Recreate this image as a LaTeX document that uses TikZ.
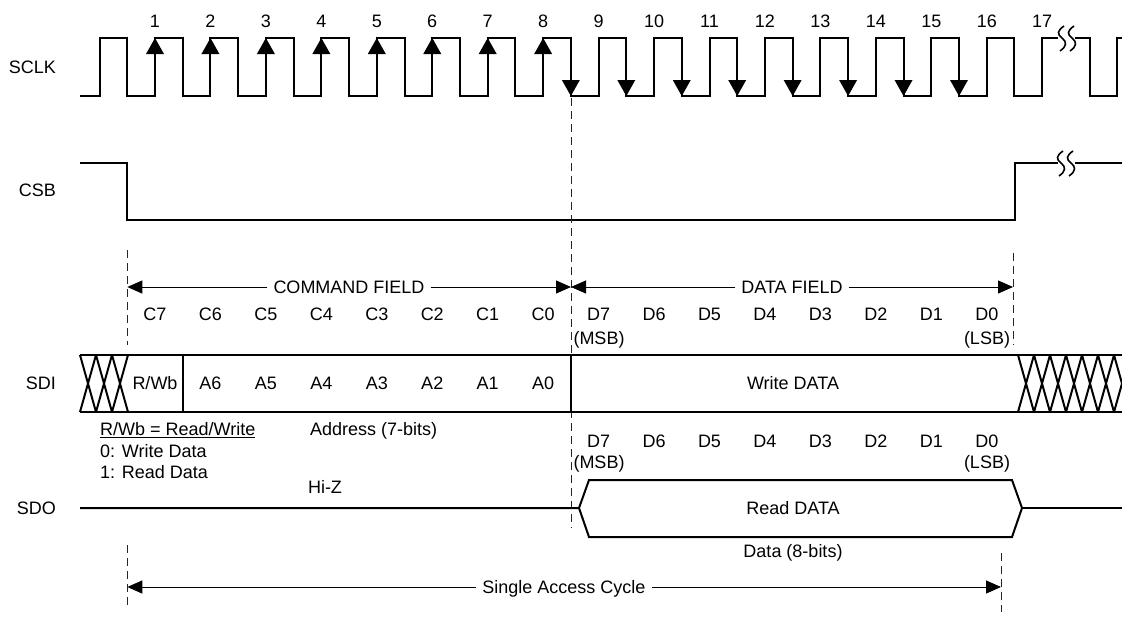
\documentclass[tikz,border=0pt]{standalone}
\usepackage{fontspec}
\setmainfont{Liberation Sans}
\usetikzlibrary{arrows.meta}
\begin{document}
\begin{tikzpicture}[x=1pt,y=-1pt,
  sig/.style={line width=2pt, line join=miter},
  dsh/.style={line width=0.9pt, dash pattern=on 8pt off 5pt, black!85},
  dimline/.style={line width=1pt, -{Triangle[length=15pt,width=13pt]}},
  lbl/.style={font=\fontsize{18}{21}\selectfont, inner sep=0pt, text height=12.9pt, text depth=0pt},
  sq/.style={line width=1.6pt}
]
\useasboundingbox (0,0) rectangle (1122,616);

% ---------- signal names ----------
\node[lbl, anchor=east] (nSCLK) at (56,67) {SCLK};
\node[lbl, anchor=east] (nCSB)  at (56,190) {CSB};
\node[lbl, anchor=east] (nSDI)  at (56,383) {SDI};
\node[lbl, anchor=east] (nSDO)  at (56,508) {SDO};

% ---------- SCLK ----------
\draw[sig] (80,96) -- (99.6,96) -- (99.6,38) -- (127.3,38) -- (127.3,96)
  foreach \k in {0,...,15} { -- ({155+\k*55.45},96) -- ({155+\k*55.45},38) -- ({182.7+\k*55.45},38) -- ({182.7+\k*55.45},96) }
  -- (1042.2,96) -- (1042.2,38) -- (1058,38);
\draw[sig] (1075,38) -- (1090,38) -- (1090,96) -- (1117,96) -- (1117,38) -- (1122,38);
\foreach \x in {1062,1072}{
  \draw[sq] (\x+2,26) .. controls (\x-5,31) and (\x-5,34) .. (\x,38) .. controls (\x+5,42) and (\x+5,46) .. (\x-2,51);
}
\foreach \k in {0,...,7}{
  \fill ({155+\k*55.45},38) -- ++(-9,16) -- ++(18,0) -- cycle;
}
\foreach \k in {7,...,14}{
  \fill ({182.7+\k*55.45},96) -- ++(-9,-16) -- ++(18,0) -- cycle;
}
\foreach \k in {1,...,17}{
  \node[lbl] (num\k) at ({155+(\k-1)*55.45},21) {\k};
}

% ---------- CSB ----------
\draw[sig] (80,163) -- (127.3,163) -- (127.3,220) -- (1014.5,220) -- (1014.5,163) -- (1058,163);
\draw[sig] (1075,163) -- (1122,163);
\foreach \x in {1061,1071}{
  \draw[sq] (\x+2,151) .. controls (\x-5,156) and (\x-5,159) .. (\x,163) .. controls (\x+5,167) and (\x+5,171) .. (\x-2,176);
}

% ---------- dashed markers ----------
\draw[dsh] (127.3,250) -- (127.3,345);
\draw[dsh] (127.3,545) -- (127.3,608);
\draw[dsh] (571,98) -- (571,528);
\draw[dsh] (1013,253) -- (1013,345);
\draw[dsh] (1001,553) -- (1001,612);

% ---------- field arrows ----------
\coordinate (cL) at (127.3,287);
\coordinate (cM) at (571,287);
\coordinate (cR) at (1013,287);
\node[lbl] (cmd) at (349,287) {COMMAND FIELD};
\node[lbl] (dat) at (792,287) {DATA FIELD};
\draw[dimline] ([xshift=-6pt]cmd.west) -- (cL);
\draw[dimline] ([xshift=6pt]cmd.east) -- (cM);
\draw[dimline] ([xshift=-6pt]dat.west) -- (cM);
\draw[dimline] ([xshift=6pt]dat.east) -- (cR);

\foreach \c [count=\i from 0] in {C7,C6,C5,C4,C3,C2,C1,C0}{
  \node[lbl] (c\i) at ({155+\i*55.45},314) {\c};
}
\foreach \d [count=\i from 0] in {D7,D6,D5,D4,D3,D2,D1,D0}{
  \node[lbl] (d\i) at ({598.6+\i*55.45},314) {\d};
  \node[lbl] (e\i) at ({598.6+\i*55.45},441) {\d};
}
\node[lbl] (msb1) at (599,338) {(MSB)};
\node[lbl] (lsb1) at (987,338) {(LSB)};
\node[lbl] (msb2) at (599,462) {(MSB)};
\node[lbl] (lsb2) at (987,462) {(LSB)};

% ---------- SDI ----------
\draw[sig] (80,355) -- (1122,355);
\draw[sig] (80,412) -- (1122,412);
\foreach \i in {0,1,2}{
  \draw[sig] ({80+\i*16},355) -- ({96+\i*16},412);
  \draw[sig] ({80+\i*16},412) -- ({96+\i*16},355);
}
\foreach \i in {0,...,6}{
  \draw[sig] ({1018+\i*16},355) -- ({1034+\i*16},412);
  \draw[sig] ({1018+\i*16},412) -- ({1034+\i*16},355);
}
\draw[sig] (183,355) -- (183,412);
\draw[sig] (571,355) -- (571,412);
\node[lbl] (rw) at (155,383) {R/Wb};
\foreach \a [count=\i from 1] in {A6,A5,A4,A3,A2,A1,A0}{
  \node[lbl] (a\i) at ({155+\i*55.45},383) {\a};
}
\node[lbl] (wd) at (793,383) {Write DATA};

\node[lbl, anchor=west] (rwdef) at (100,429) {\underline{R/Wb = Read/Write}};
\node[lbl, anchor=west] (w0) at (100,451) {0: Write Data};
\node[lbl, anchor=west] (r1) at (100,472) {1: Read Data};
\node[lbl, anchor=west] (addr) at (310,429) {Address (7-bits)};

% ---------- SDO ----------
\node[lbl] (hiz) at (325,487) {Hi-Z};
\draw[sig] (80,508) -- (579,508) -- (589,480) -- (1012,480) -- (1022,508) -- (1012,537) -- (589,537) -- (579,508);
\draw[sig] (1022,508) -- (1122,508);
\node[lbl] (rd) at (793,508) {Read DATA};
\node[lbl] (d8) at (793,551) {Data (8-bits)};

% ---------- single access cycle ----------
\coordinate (sL) at (127.3,587);
\coordinate (sR) at (1001,587);
\node[lbl] (sac) at (564,587) {Single Access Cycle};
\draw[dimline] ([xshift=-6pt]sac.west) -- (sL);
\draw[dimline] ([xshift=6pt]sac.east) -- (sR);
\end{tikzpicture}
\end{document}
